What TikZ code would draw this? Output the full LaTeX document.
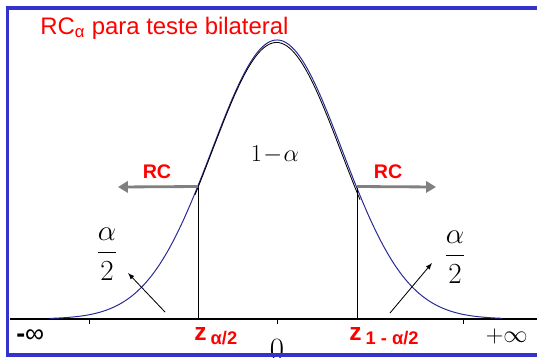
\documentclass[tikz,border=0pt]{standalone}
\usepackage{amsmath,amssymb}
\usepackage{fontspec}
\setsansfont{Liberation Sans}
\usepackage{xcolor}
\usepackage{tikz}
\usetikzlibrary{arrows, arrows.meta, calc}

\definecolor{framecol}{RGB}{51,51,204}
\definecolor{curvecol}{RGB}{40,40,150}

\begin{document}
\begin{tikzpicture}[
    x=0.025cm, y=-0.025cm,
    curve/.style={draw=curvecol, line width=0.7pt},
    rcarrow/.style={draw=gray, line width=2pt, -{Triangle[length=7pt,width=8pt]}},
    tailarrow/.style={draw, -latex, line width=0.6pt},
    rclabel/.style={text=red, font=\sffamily\bfseries\fontsize{14}{16}\selectfont, inner sep=0pt},
    zlabel/.style={text=red, font=\sffamily\bfseries\fontsize{17.5}{20}\selectfont, inner sep=0pt},
    fraclabel/.style={font=\fontsize{22}{26}\selectfont, inner sep=0pt}
]
    \useasboundingbox (0,0) rectangle (537,357);

    % axis and ticks
    \coordinate (axl) at (10,319);
    \coordinate (axr) at (540,319);
    \draw[line width=0.8pt] (axl) -- (axr);
    \foreach \t in {89,277,463}
        \draw[line width=0.5pt] (\t,319) -- (\t,324);

    % density
    \draw[curve] plot[domain=50:502, samples=160, smooth]
        (\x, {319-279*exp(-0.5*pow((\x-277)/65,2))});
    \draw[line width=0.6pt] plot[domain=195:360, samples=80, smooth]
        (\x, {319.5-277*exp(-0.5*pow((\x-276.5)/64.5,2))});

    % central region
    \coordinate (zl)  at (198,186.5);
    \coordinate (zr)  at (357,186.5);
    \coordinate (zlb) at (198,319);
    \coordinate (zrb) at (357,319);
    \draw[line width=0.6pt] (zlb) -- (zl);
    \draw[line width=0.6pt] (zrb) -- (zr);
    \draw[line width=1.4pt] (zlb) -- (zrb);

    \node[font=\fontsize{18.5}{22}\selectfont, inner sep=0pt, anchor=base] (conf) at (275,161) {$1\!-\!\alpha$};

    % critical regions
    \coordinate (rcl) at (118,187);
    \coordinate (rcr) at (436,187);
    \draw[rcarrow] (zl) -- (rcl);
    \draw[rcarrow] (zr) -- (rcr);
    \node[rclabel, anchor=base] (rcleft)  at (157,178) {RC};
    \node[rclabel, anchor=base] (rcright) at (388,178) {RC};

    \node[fraclabel] (alphal) at (107,254) {$\dfrac{\alpha}{2}$};
    \node[fraclabel] (alphar) at (455,257) {$\dfrac{\alpha}{2}$};
    \coordinate (tl) at (165,312);
    \coordinate (tr) at (390,313);
    \draw[tailarrow] (tl) -- (128,273);
    \draw[tailarrow] (tr) -- (432,263);

    % axis labels
    \node[font=\sffamily\fontsize{19}{22}\selectfont, inner sep=0pt, anchor=base west] (minf) at (16,342) {\textbf{-}∞};
    \node[font=\fontsize{18}{20}\selectfont, inner sep=0pt, anchor=base east] (pinf) at (528,342) {$+\infty$};
    \node[zlabel, anchor=base west] (zlow) at (194,340) {z\,{\fontsize{13}{15}\selectfont\raisebox{-0.5ex}{α/2}}};
    \node[zlabel, anchor=base west] (zup)  at (349,340) {z\,{\fontsize{13}{15}\selectfont\raisebox{-0.5ex}{1 - α/2}}};
    \node[font=\fontsize{22}{24}\selectfont, inner sep=0pt, anchor=base] (zero) at (277,359) {0};

    \node[text=red, font=\sffamily\fontsize{17}{20}\selectfont, inner sep=0pt, anchor=base west] (title) at (40,34) {RC\textsubscript{α} para teste bilateral};

    % frame
    \draw[framecol, line width=2.8pt] (545,8) -- (7.5,8) -- (7.5,355) -- (545,355);
\end{tikzpicture}
\end{document}
